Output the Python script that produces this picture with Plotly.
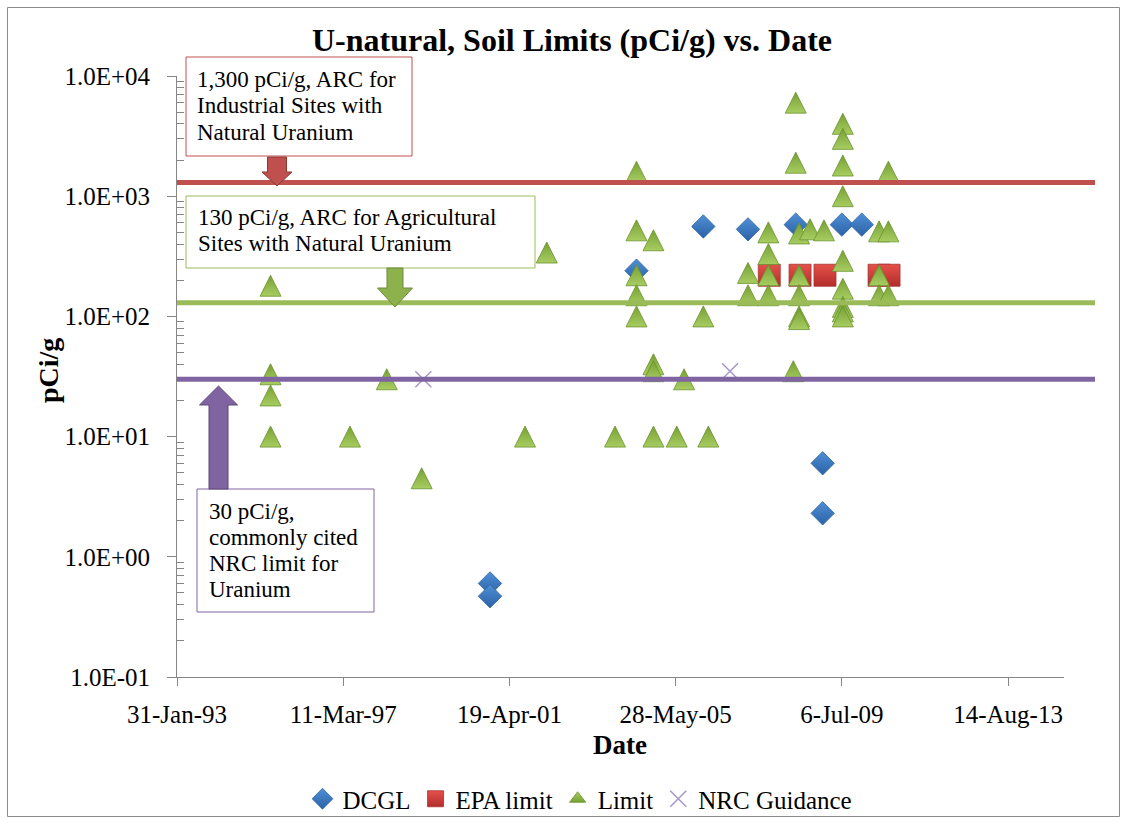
import plotly.graph_objects as go

# ---------------- data ----------------
dcgl_dates = ["2000-10-26", "2000-10-26", "2004-06-09", "2006-02-02", "2007-03-12",
              "2008-05-16", "2009-01-14", "2009-01-14", "2009-07-06", "2010-01-02"]
dcgl_values = [0.6, 0.47, 240, 560, 530, 580, 6, 2.3, 580, 580]

epa_dates = ["2007-09-20", "2008-06-24", "2009-02-04", "2010-06-07", "2010-09-05"]
epa_values = [220, 220, 220, 220, 220]

limit_dates = [
    "1995-05-25", "1995-05-25", "1995-05-25", "1995-05-25",
    "1997-05-11", "1998-04-08", "1999-02-17", "2001-09-07", "2002-03-22", "2003-11-28",
    "2004-06-09", "2004-06-09", "2004-06-09", "2004-06-09", "2004-06-09",
    "2004-11-09", "2004-11-09", "2004-11-09", "2004-11-09",
    "2005-06-07", "2005-08-12", "2006-02-02", "2006-03-19",
    "2007-03-12", "2007-03-12",
    "2007-09-12", "2007-09-12", "2007-09-12", "2007-09-12",
    "2008-04-24", "2008-05-16", "2008-05-16",
    "2008-06-15", "2008-06-15", "2008-06-15", "2008-06-15", "2008-06-15",
    "2008-09-22", "2009-01-26",
    "2009-07-15", "2009-07-15", "2009-07-15", "2009-07-15", "2009-07-15",
    "2009-07-15", "2009-07-15", "2009-07-15", "2009-07-15",
    "2010-06-07", "2010-06-07", "2010-06-07",
    "2010-08-30", "2010-08-30", "2010-08-30",
]
limit_values = [
    180, 33, 22, 10,
    10, 30, 4.5, 10, 340, 10,
    1600, 520, 220, 150, 100,
    430, 40, 35, 10,
    10, 30, 100, 10,
    230, 150,
    500, 330, 220, 150,
    35, 6000, 1900,
    490, 220, 150, 100, 95,
    530, 520,
    4000, 3000, 1800, 1000, 290,
    170, 120, 110, 100,
    510, 220, 150,
    1600, 510, 150,
]

nrc_dates = ["1999-03-04", "2006-10-01"]
nrc_values = [30, 35]

# reference levels (pCi/g): ARC industrial, ARC agricultural, NRC
arc_industrial = 1300
arc_agricultural = 130
nrc_limit = 30

x_tick_dates = ["1993-01-31", "1997-03-11", "2001-04-19", "2005-05-28", "2009-07-06", "2013-08-14"]
x_tick_labels = ["31-Jan-93", "11-Mar-97", "19-Apr-01", "28-May-05", "6-Jul-09", "14-Aug-13"]
y_tick_values = [0.1, 1, 10, 100, 1000, 10000]
y_tick_labels = ["1.0E-01", "1.0E+00", "1.0E+01", "1.0E+02", "1.0E+03", "1.0E+04"]

industrial_note = ["1,300 pCi/g, ARC for", "Industrial Sites with", "Natural Uranium"]
agricultural_note = ["130 pCi/g, ARC for Agricultural", "Sites with Natural Uranium"]
nrc_note = ["30 pCi/g,", "commonly cited", "NRC limit for", "Uranium"]

# ---------------- layout geometry (pixels) ----------------
W, H = 1127, 824
PL, PR, PT, PB = 177, 1064, 76, 677
FONT = "Liberation Serif, Times New Roman, serif"
AXIS_GRAY = "#868686"

GREEN_DARK, GREEN_LIGHT = "#76A034", "#A8CD62"


def fx(p):
    return (p - PL) / (PR - PL)


def fy(p):
    return (PB - p) / (PB - PT)


def poly_path(points):
    return "M " + " L ".join(f"{fx(x):.5f},{fy(y):.5f}" for x, y in points) + " Z"


def block_arrow(cx, body_half, head_half, y_base, y_head, y_tip):
    return poly_path([(cx - body_half, y_base), (cx + body_half, y_base), (cx + body_half, y_head),
                      (cx + head_half, y_head), (cx, y_tip), (cx - head_half, y_head),
                      (cx - body_half, y_head)])


fig = go.Figure()

fig.add_trace(go.Scatter(
    x=dcgl_dates, y=dcgl_values, mode="markers", name="DCGL",
    marker=dict(symbol="diamond", size=18, color="#4F8FD6",
                gradient=dict(type="vertical", color="#2B62A6"),
                line=dict(color="#2F64A3", width=0.8)),
))
fig.add_trace(go.Scatter(
    x=epa_dates, y=epa_values, mode="markers", name="EPA limit",
    marker=dict(symbol="square", size=22, color="#E5514B",
                gradient=dict(type="vertical", color="#B32D2A"),
                line=dict(color="#A83230", width=0.8)),
))
# upward triangle centred on the point: flipped arrow head pushed back by half its height
fig.add_trace(go.Scatter(
    x=limit_dates, y=limit_values, mode="markers", name="Limit", showlegend=False,
    marker=dict(symbol="arrow-down", angle=180, size=21, standoff=10.5, color=GREEN_DARK,
                gradient=dict(type="vertical", color=GREEN_LIGHT),
                line=dict(color="#6A922B", width=0.8)),
))
# legend entry for the Limit series
fig.add_trace(go.Scatter(
    x=[None], y=[None], mode="markers", name="Limit",
    marker=dict(symbol="triangle-up", size=14, color=GREEN_LIGHT,
                gradient=dict(type="vertical", color=GREEN_DARK),
                line=dict(color="#6A922B", width=0.8)),
))
fig.add_trace(go.Scatter(
    x=nrc_dates, y=nrc_values, mode="markers", name="NRC Guidance",
    marker=dict(symbol="x-thin", size=16, color="#A697C6",
                line=dict(color="#A697C6", width=1.5)),
))

shapes = []
# outer chart frame
shapes.append(dict(type="rect", xref="paper", yref="paper",
                   x0=fx(7.5), x1=fx(1119.5), y0=fy(816.5), y1=fy(7.5),
                   line=dict(color="#8C8C8C", width=1), fillcolor="rgba(0,0,0,0)", layer="below"))

# horizontal reference levels
line_end = fx(1095)
for level, col in [(arc_industrial, "#C0504D"), (arc_agricultural, "#9BBB59"), (nrc_limit, "#8064A2")]:
    shapes.append(dict(type="line", xref="paper", yref="y", x0=0, x1=line_end, y0=level, y1=level,
                       line=dict(color=col, width=5), layer="above"))

# callout boxes
for (x0, y0, x1, y1, col) in [(186, 57, 412, 156, "#C0504D"),
                              (186, 196, 535, 268, "#9BBB59"),
                              (197, 489, 374, 612, "#8064A2")]:
    shapes.append(dict(type="rect", xref="paper", yref="paper",
                       x0=fx(x0), x1=fx(x1), y0=fy(y1), y1=fy(y0),
                       line=dict(color=col, width=1), fillcolor="white", layer="above"))

# block arrows
shapes.append(dict(type="path", xref="paper", yref="paper",
                   path=block_arrow(277, 9.5, 15, 157, 172, 186),
                   fillcolor="#C0504D", line=dict(color="#8C3836", width=1), layer="above"))
shapes.append(dict(type="path", xref="paper", yref="paper",
                   path=block_arrow(395, 8, 17.5, 268, 288, 307),
                   fillcolor="#8DB24C", line=dict(color="#71893F", width=1), layer="above"))
shapes.append(dict(type="path", xref="paper", yref="paper",
                   path=block_arrow(218.5, 9.5, 19, 489, 405, 386),
                   fillcolor="#8064A2", line=dict(color="#5C4776", width=1), layer="above"))

annotations = [
    dict(text="<b>U-natural, Soil Limits (pCi/g) vs. Date</b>", x=fx(572), y=fy(40),
         xref="paper", yref="paper", showarrow=False, xanchor="center", yanchor="middle",
         font=dict(family=FONT, size=32, color="black")),
    dict(text="<b>pCi/g</b>", x=fx(48), y=fy(371), textangle=-90,
         xref="paper", yref="paper", showarrow=False, xanchor="center", yanchor="middle",
         font=dict(family=FONT, size=28, color="black")),
    dict(text="<b>Date</b>", x=fx(620), y=fy(745),
         xref="paper", yref="paper", showarrow=False, xanchor="center", yanchor="middle",
         font=dict(family=FONT, size=27, color="black")),
]


def note_lines(lines, x_left, y_first, step):
    for i, line in enumerate(lines):
        annotations.append(dict(text=line, x=fx(x_left), y=fy(y_first + i * step),
                                xref="paper", yref="paper", showarrow=False,
                                xanchor="left", yanchor="middle", align="left",
                                font=dict(family=FONT, size=23, color="black")))


note_lines(industrial_note, 195, 79, 26.5)
note_lines(agricultural_note, 196, 217, 27)
note_lines(nrc_note, 207, 511, 26)

minor_vals = [m * 10 ** e for e in range(-1, 4) for m in range(2, 10)]

fig.update_layout(
    width=W, height=H,
    margin=dict(l=PL, r=W - PR, t=PT, b=H - PB, pad=0, autoexpand=False),
    paper_bgcolor="white", plot_bgcolor="white",
    font=dict(family=FONT, size=22, color="black"),
    showlegend=True,
    legend=dict(orientation="h", x=fx(580), y=fy(799), xanchor="center", yanchor="middle",
                font=dict(family=FONT, size=25, color="black"),
                itemwidth=30, bgcolor="rgba(0,0,0,0)"),
    xaxis=dict(type="date", range=["1993-01-31", "2015-01-01"],
               tickmode="array", tickvals=x_tick_dates, ticktext=x_tick_labels,
               ticks="outside", ticklen=8, tickcolor=AXIS_GRAY, tickwidth=1,
               showline=True, linecolor=AXIS_GRAY, linewidth=1,
               showgrid=False, zeroline=False, ticklabelstandoff=7,
               tickfont=dict(family=FONT, size=25, color="black")),
    yaxis=dict(type="log", range=[-1, 4],
               tickmode="array", tickvals=y_tick_values, ticktext=y_tick_labels,
               ticks="outside", ticklen=9, tickcolor=AXIS_GRAY, tickwidth=1,
               minor=dict(tickmode="array", tickvals=minor_vals, ticks="inside",
                          ticklen=7, tickcolor=AXIS_GRAY, showgrid=False),
               showline=True, linecolor=AXIS_GRAY, linewidth=1,
               showgrid=False, zeroline=False, ticklabelstandoff=12,
               tickfont=dict(family=FONT, size=25, color="black")),
    shapes=shapes,
    annotations=annotations,
)

fig.write_html("out.html")
